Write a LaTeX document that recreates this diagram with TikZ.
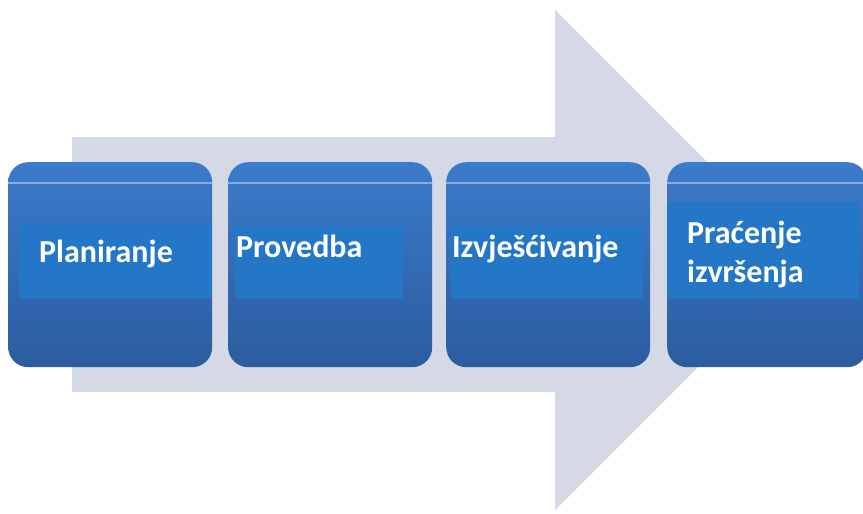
\documentclass[tikz,border=0pt]{standalone}
\usepackage{fontspec}
\setmainfont{Carlito}
\usetikzlibrary{positioning}

\definecolor{strelica}{HTML}{D5D9E6}
\definecolor{kutijagore}{HTML}{3B7BCB}
\definecolor{kutijadolje}{HTML}{2B5C9F}
\definecolor{traka}{HTML}{2477C6}
\definecolor{svjetlo}{HTML}{86AEE6}

\begin{document}
\begin{tikzpicture}[x=1pt, y=-1pt, %1pt po pikselu, y prema dolje
	korak/.style={anchor=north west, inner sep=0pt, rounded corners=20pt, top color=kutijagore, bottom color=kutijadolje, minimum width=204pt, minimum height=205pt},
	trakica/.style={anchor=north west, inner sep=0pt, fill=traka, minimum height=75pt},
	natpis/.style={anchor=base west, inner sep=0pt, text=white, font=\fontsize{32}{39}\selectfont\bfseries, align=left}]
		%Okvir slike
	\useasboundingbox (0,0) rectangle (863,514);
	\clip (0,0) rectangle (863,514);
		%Velika strelica u pozadini
	\fill[strelica] (72,137) -- (555,137) -- (555,10) -- (805,260) -- (555,510) -- (555,392) -- (72,392) -- cycle;
		%Kutije
	\node[korak] (k1) at (8,162) {}; %Planiranje
	\node[korak] (k2) at (228,162) {}; %Provedba
	\node[korak] (k3) at (446,162) {}; %Izvješćivanje
	\node[korak, minimum width=200pt] (k4) at (667,162) {}; %Praćenje izvršenja
		%Svijetla linija pri vrhu
	\foreach \k in {k1,k2,k3,k4}
		\draw[svjetlo, line width=1.5pt] ([yshift=-21pt]\k.north west) -- ([yshift=-21pt]\k.north east);
		%Trake s tekstom
	\node[trakica, minimum width=193pt] (t1) at (19,223) {};
	\node[trakica, minimum width=168pt, minimum height=72pt] (t2) at (235,226) {};
	\node[trakica, minimum width=192pt, minimum height=72pt] (t3) at (451,226) {};
	\node[trakica, minimum width=192pt, minimum height=97pt] (t4) at (667,202) {};
	\node[natpis] (n1) at (39,262) {Planiranje};
	\node[natpis] (n2) at (236,257) {Provedba};
	\node[natpis] (n3) at (452,257) {Izvješćivanje};
	\node[natpis] (n4) at (687,282) {Praćenje\\izvršenja};
\end{tikzpicture}
\end{document}
